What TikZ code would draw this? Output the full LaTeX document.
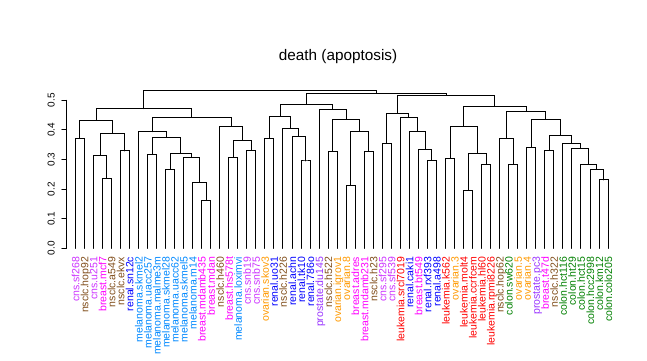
\documentclass[tikz,border=0pt]{standalone}
\usepackage{fontspec}
\setmainfont{Liberation Sans}
\usetikzlibrary{calc}
\definecolor{cns}{RGB}{204,51,255}
\definecolor{nsclc}{RGB}{128,77,26}
\definecolor{breast}{RGB}{255,0,255}
\definecolor{renal}{RGB}{0,0,255}
\definecolor{melanoma}{RGB}{0,136,255}
\definecolor{ovarian}{RGB}{255,153,0}
\definecolor{prostate}{RGB}{153,51,255}
\definecolor{leukemia}{RGB}{255,0,0}
\definecolor{colon}{RGB}{0,128,0}
% join two clusters at a given height
\newcommand\merge[4]{%
  \path let \p1=(#2), \p2=(#3) in coordinate (#1) at ({(\x1+\x2)/2},{#4*296pt});
  \draw (#2) |- (#1) -| (#3);}
\begin{document}
\begin{tikzpicture}[x=9.03pt,y=296pt,line width=1pt,line cap=round,
    leaflab/.style={rotate=90,anchor=east,inner sep=0pt,text height=8pt,text depth=0pt,
      font=\fontsize{10.5}{12}\selectfont},
    ticklab/.style={rotate=90,anchor=south,inner sep=0pt,text depth=0pt,
      font=\fontsize{10}{12}\selectfont}]
  \useasboundingbox (-66.27pt,-111.7pt) rectangle (580.73pt,248.3pt);
  \node[font=\fontsize{15.3}{18}\selectfont,anchor=base] (title) at (30.1,0.633) {death (apoptosis)};
  % axis
  \draw (0,0) -- (0,0.5);
  \foreach \v [count=\k] in {0.0,0.1,0.2,0.3,0.4,0.5}{
    \draw (0,\v) -- ++(-4.5pt,0);
    \node[ticklab] (y\k) at ([xshift=-11.2pt]0,\v) {\v};
  }
  % leaves
  \foreach \lab/\col [count=\i] in {cns.sf268/cns,nsclc.hop92/nsclc,cns.u251/cns,
      breast.mcf7/breast,nsclc.a549/nsclc,nsclc.ekvx/nsclc,renal.sn12c/renal,
      melanoma.skmel2/melanoma,melanoma.uacc257/melanoma,melanoma.malme3m/melanoma,
      melanoma.skmel28/melanoma,melanoma.uacc62/melanoma,melanoma.skmel5/melanoma,
      melanoma.m14/melanoma,breast.mdamb435/breast,breast.mdan/breast,nsclc.h460/nsclc,
      breast.hs578t/breast,melanoma.loximvi/melanoma,cns.snb19/cns,cns.snb75/cns,
      ovarian.skov3/ovarian,renal.uo31/renal,nsclc.h226/nsclc,renal.achn/renal,
      renal.tk10/renal,renal.786o/renal,prostate.du145/prostate,nsclc.h522/nsclc,
      ovarian.igrov1/ovarian,ovarian.8/ovarian,breast.adres/breast,
      breast.mdamb231/breast,nsclc.h23/nsclc,cns.sf295/cns,cns.sf539/cns,
      leukemia.srcl7019/leukemia,renal.caki1/renal,breast.bt549/breast,
      renal.rxf393/renal,renal.a498/renal,leukemia.k562/leukemia,ovarian.3/ovarian,
      leukemia.molt4/leukemia,leukemia.ccrfcem/leukemia,leukemia.hl60/leukemia,
      leukemia.rpmi8226/leukemia,nsclc.hop62/nsclc,colon.sw620/colon,ovarian.5/ovarian,
      ovarian.4/ovarian,prostate.pc3/prostate,breast.t47d/breast,nsclc.h322/nsclc,
      colon.hct116/colon,colon.ht29/colon,colon.hct15/colon,colon.hcc2998/colon,
      colon.km12/colon,colon.colo205/colon}{
    \coordinate (l\i) at (\i,0);
    \node[leaflab,text=\col] (t\i) at ([yshift=-8pt]l\i) {\lab};
  }
  % left part
  \merge{a1}{l4}{l5}{0.236}
  \merge{a2}{l3}{a1}{0.314}
  \merge{a3}{l6}{l7}{0.329}
  \merge{a4}{a2}{a3}{0.389}
  \merge{a5}{l1}{l2}{0.372}
  \merge{a6}{a5}{a4}{0.432}
  \merge{b1}{l9}{l10}{0.318}
  \merge{b2}{l11}{l12}{0.267}
  \merge{b3}{l15}{l16}{0.162}
  \merge{b4}{l14}{b3}{0.223}
  \merge{b5}{l13}{b4}{0.307}
  \merge{b6}{b2}{b5}{0.321}
  \merge{b7}{b1}{b6}{0.375}
  \merge{b8}{l8}{b7}{0.394}
  \merge{c1}{l18}{l19}{0.307}
  \merge{c2}{l20}{l21}{0.331}
  \merge{c3}{c1}{c2}{0.365}
  \merge{c4}{l17}{c3}{0.412}
  \merge{c5}{b8}{c4}{0.443}
  \merge{c6}{a6}{c5}{0.472}
  % middle part
  \merge{d1}{l22}{l23}{0.372}
  \merge{d2}{l26}{l27}{0.295}
  \merge{d3}{l25}{d2}{0.378}
  \merge{d4}{l24}{d3}{0.405}
  \merge{d5}{d1}{d4}{0.446}
  \merge{e1}{l29}{l30}{0.328}
  \merge{e2}{l31}{l32}{0.213}
  \merge{e3}{l33}{l34}{0.328}
  \merge{e4}{e2}{e3}{0.395}
  \merge{e5}{e1}{e4}{0.436}
  \merge{e6}{l28}{e5}{0.470}
  \merge{e7}{d5}{e6}{0.486}
  % right part
  \merge{f1}{l35}{l36}{0.355}
  \merge{f2}{l40}{l41}{0.297}
  \merge{f3}{l39}{f2}{0.334}
  \merge{f4}{l38}{f3}{0.395}
  \merge{f5}{l37}{f4}{0.443}
  \merge{f6}{f1}{f5}{0.456}
  \merge{g1}{l42}{l43}{0.304}
  \merge{g2}{l44}{l45}{0.196}
  \merge{g3}{l46}{l47}{0.284}
  \merge{g4}{g2}{g3}{0.321}
  \merge{g5}{g1}{g4}{0.412}
  \merge{h1}{l49}{l50}{0.284}
  \merge{h2}{l48}{h1}{0.372}
  \merge{h3}{l51}{l52}{0.341}
  \merge{h4}{l53}{l54}{0.331}
  \merge{h5}{l59}{l60}{0.231}
  \merge{h6}{l58}{h5}{0.267}
  \merge{h7}{l57}{h6}{0.284}
  \merge{h8}{l56}{h7}{0.338}
  \merge{h9}{l55}{h8}{0.355}
  \merge{h10}{h4}{h9}{0.382}
  \merge{h11}{h3}{h10}{0.436}
  \merge{h12}{h2}{h11}{0.463}
  \merge{h13}{g5}{h12}{0.480}
  \merge{h14}{f6}{h13}{0.517}
  \merge{top}{e7}{h14}{0.524}
  \merge{root}{c6}{top}{0.534}
\end{tikzpicture}
\end{document}
